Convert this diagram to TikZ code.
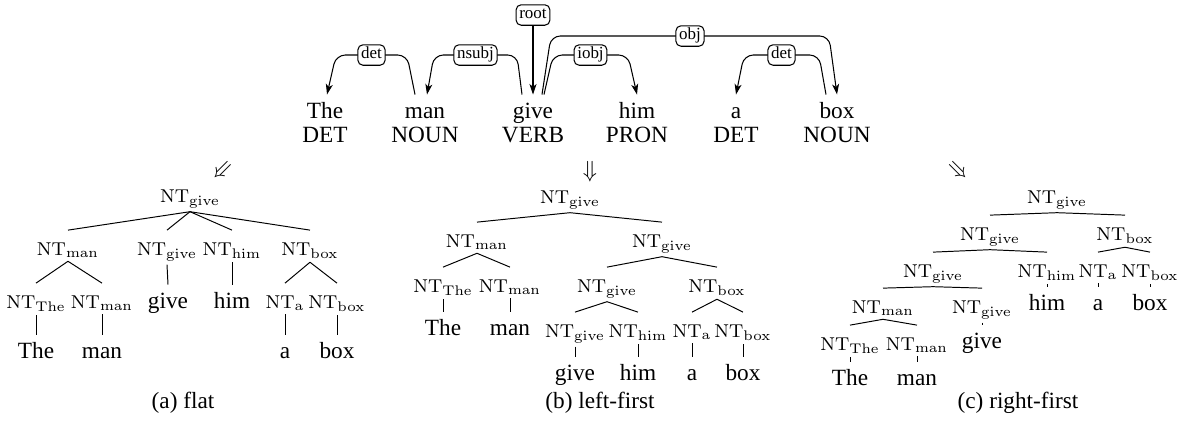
\documentclass[tikz,border=0pt]{standalone}
\usepackage[no-math]{fontspec}
\setmainfont{Liberation Serif}
\usetikzlibrary{calc,arrows.meta}
\newcommand\ntl[1]{$\mathrm{NT}_{\mathrm{#1}}$}
\begin{document}
\begin{tikzpicture}[x=0.43pt,y=-0.43pt,
  wd/.style={font=\rmfamily\normalsize, anchor=base, inner xsep=1pt, inner ysep=1.5pt, text height=8.4pt},
  nt/.style={font=\footnotesize, anchor=base, inner xsep=1pt, inner ysep=1.5pt, text height=9pt},
  tagtxt/.style={font=\rmfamily\normalsize, anchor=base, inner sep=1pt},
  lab/.style={draw, rounded corners=2.2pt, fill=white, font=\rmfamily\fontsize{7.3}{8}\selectfont, inner xsep=1.4pt, inner ysep=1.2pt, text height=4.9pt, text depth=1.5pt, line width=0.45pt},
  dep/.style={line width=0.45pt, rounded corners=4pt, -{Stealth[length=4.5pt,width=3pt,inset=1.2pt]}},
  br/.style={line width=0.42pt},
  captxt/.style={font=\rmfamily\normalsize, anchor=base},
  dar/.style={font=\normalsize, inner sep=0pt}]
\useasboundingbox (0,0) rectangle (1184,424);

% ---------- dependency sentence ----------
\node[wd] (w1) at (325,118) {The};
\node[wd] (w2) at (425,118) {man};
\node[wd] (w3) at (533,118) {give};
\node[wd] (w4) at (637,118) {him};
\node[wd] (w5) at (736,118) {a};
\node[wd] (w6) at (837,118) {box};
\node[tagtxt] (t1) at (325,142) {DET};
\node[tagtxt] (t2) at (425,142) {NOUN};
\node[tagtxt] (t3) at (533,142) {VERB};
\node[tagtxt] (t4) at (637,142) {PRON};
\node[tagtxt] (t5) at (736,142) {DET};
\node[tagtxt] (t6) at (837,142) {NOUN};

\draw[dep] ($(w2.north)+(-10,0)$) -- (407,55) -- node[lab] {det} (336,55) -- ($(w1.north)+(2,0)$);
\draw[dep] ($(w3.north)+(-11,0)$) -- (517,55) -- node[lab] {nsubj} (434,55) -- ($(w2.north)+(2,0)$);
\draw[dep] ($(w3.north)+(9,0)$) -- (551,36) -- node[lab] {obj} (829,36) -- (w6.north);
\draw[dep] ($(w3.north)+(11,0)$) -- (553,55) -- node[lab] {iobj} (628,55) -- (w4.north);
\draw[dep] ($(w6.north)+(-11,0)$) -- (819,55) -- node[lab] {det} (744,55) -- (w5.north);
\node[lab] (root) at (533,15) {root};
\draw[dep] (root) -- (w3.north);

% ---------- arrows ----------
\node[dar, rotate=-45] (arA) at (222,170) {$\Downarrow$};
\node[dar] (arB) at (590,172) {$\Downarrow$};
\node[dar, rotate=45] (arC) at (958,170) {$\Downarrow$};

% ---------- (a) flat ----------
\node[nt] (a0) at (190,202) {\ntl{give}};
\node[nt] (a1) at (68,255) {\ntl{man}};
\node[nt] (a2) at (167,255) {\ntl{give}};
\node[nt] (a3) at (232,255) {\ntl{him}};
\node[nt] (a4) at (310,255) {\ntl{box}};
\node[nt] (a5) at (36,308) {\ntl{The}};
\node[nt] (a6) at (102,308) {\ntl{man}};
\node[wd] (a7) at (168,308) {give};
\node[wd] (a8) at (232,308) {him};
\node[nt] (a9) at (285,308) {\ntl{a}};
\node[nt] (a10) at (337,308) {\ntl{box}};
\node[wd] (a11) at (36,358) {The};
\node[wd] (a12) at (102,358) {man};
\node[wd] (a13) at (285,358) {a};
\node[wd] (a14) at (337,358) {box};
\foreach \p/\c in {a0/a1,a0/a2,a0/a3,a0/a4,a1/a5,a1/a6,a2/a7,a3/a8,a4/a9,a4/a10,a5/a11,a6/a12,a9/a13,a10/a14}
  \draw[br] (\p.south) -- (\c.north);
\node[captxt] (capA) at (183,408) {(a) flat};

% ---------- (b) left-first ----------
\node[nt] (b0) at (570,203) {\ntl{give}};
\node[nt] (b1) at (477,247) {\ntl{man}};
\node[nt] (b2) at (662,247) {\ntl{give}};
\node[nt] (b3) at (443,292) {\ntl{The}};
\node[nt] (b4) at (510,292) {\ntl{man}};
\node[nt] (b5) at (607,292) {\ntl{give}};
\node[nt] (b6) at (717,292) {\ntl{box}};
\node[wd] (b7) at (443,335) {The};
\node[wd] (b8) at (510,335) {man};
\node[nt] (b9) at (575,337) {\ntl{give}};
\node[nt] (b10) at (638,337) {\ntl{him}};
\node[nt] (b11) at (692,337) {\ntl{a}};
\node[nt] (b12) at (743,337) {\ntl{box}};
\node[wd] (b13) at (575,380) {give};
\node[wd] (b14) at (638,380) {him};
\node[wd] (b15) at (692,380) {a};
\node[wd] (b16) at (743,380) {box};
\foreach \p/\c in {b0/b1,b0/b2,b1/b3,b1/b4,b2/b5,b2/b6,b3/b7,b4/b8,b5/b9,b5/b10,b6/b11,b6/b12,b9/b13,b10/b14,b11/b15,b12/b16}
  \draw[br] (\p.south) -- (\c.north);
\node[captxt] (capB) at (600,408) {(b) left-first};

% ---------- (c) right-first ----------
\node[nt] (c0) at (1057,203) {\ntl{give}};
\node[nt] (c1) at (990,240) {\ntl{give}};
\node[nt] (c2) at (1125,240) {\ntl{box}};
\node[nt] (c3) at (933,277) {\ntl{give}};
\node[nt] (c4) at (1047,277) {\ntl{him}};
\node[nt] (c5) at (1098,277) {\ntl{a}};
\node[nt] (c6) at (1150,277) {\ntl{box}};
\node[wd] (c7) at (1047,310) {him};
\node[wd] (c8) at (1098,310) {a};
\node[wd] (c9) at (1150,310) {box};
\node[nt] (c10) at (883,313) {\ntl{man}};
\node[nt] (c11) at (982,313) {\ntl{give}};
\node[wd] (c12) at (982,348) {give};
\node[nt] (c13) at (850,350) {\ntl{The}};
\node[nt] (c14) at (917,350) {\ntl{man}};
\node[wd] (c15) at (850,385) {The};
\node[wd] (c16) at (917,385) {man};
\foreach \p/\c in {c0/c1,c0/c2,c1/c3,c1/c4,c2/c5,c2/c6,c3/c10,c3/c11,c4/c7,c5/c8,c6/c9,c10/c13,c10/c14,c11/c12,c13/c15,c14/c16}
  \draw[br] (\p.south) -- (\c.north);
\node[captxt] (capC) at (1018,408) {(c) right-first};
\end{tikzpicture}
\end{document}
